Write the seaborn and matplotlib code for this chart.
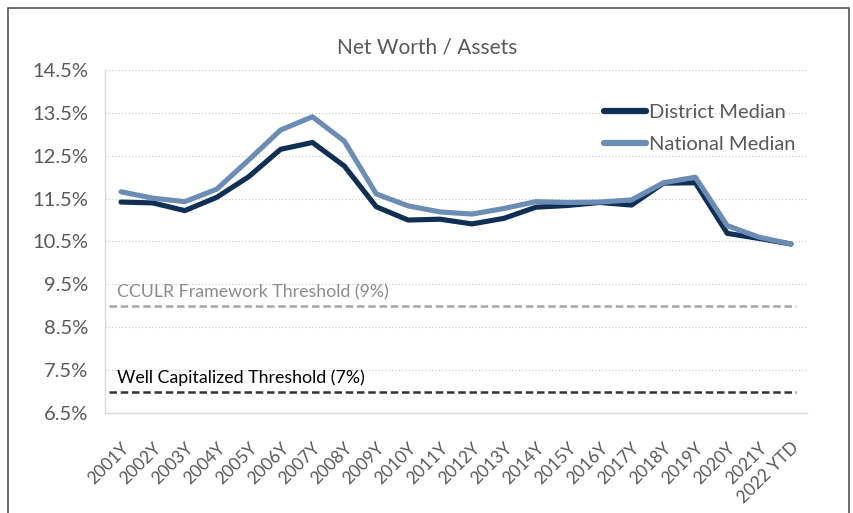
# Net Worth / Assets - district vs national median

import numpy as np
import pandas as pd
import matplotlib
matplotlib.use("Agg")
import matplotlib.pyplot as plt
from matplotlib.patches import Rectangle
import seaborn as sns

# data
years = ['2001Y', '2002Y', '2003Y', '2004Y', '2005Y', '2006Y', '2007Y', '2008Y',
         '2009Y', '2010Y', '2011Y', '2012Y', '2013Y', '2014Y', '2015Y', '2016Y',
         '2017Y', '2018Y', '2019Y', '2020Y', '2021Y', '2022 YTD']
district = [11.42, 11.40, 11.22, 11.53, 12.01, 12.65, 12.81, 12.26,
            11.31, 11.00, 11.02, 10.91, 11.04, 11.30, 11.34, 11.41,
            11.35, 11.86, 11.87, 10.69, 10.57, 10.44]
national = [11.66, 11.51, 11.43, 11.72, 12.40, 13.10, 13.41, 12.84,
            11.61, 11.33, 11.19, 11.14, 11.27, 11.43, 11.41, 11.42,
            11.47, 11.87, 12.00, 10.87, 10.60, 10.44]
ccul_threshold = 9.0
well_cap_threshold = 7.0
y_ticks = [6.5, 7.5, 8.5, 9.5, 10.5, 11.5, 12.5, 13.5, 14.5]

sns.set_style("white")
plt.rcParams['font.family'] = ['Lato', 'DejaVu Sans']

text_grey = '#595959'
navy = '#0F2F55'
steel = '#6B8DB5'

df = pd.DataFrame({
    'pos': list(range(len(years))) * 2,
    'value': district + national,
    'series': ['District Median'] * len(years) + ['National Median'] * len(years),
})

fig = plt.figure(figsize=(8.54, 5.13), dpi=100)
ax = fig.add_axes([0.123, 0.195, 0.822, 0.6685])

# dotted horizontal gridlines
for t in y_ticks:
    ax.axhline(t, color='#C8C8C8', lw=0.8, ls=(0, (1, 2)), zorder=0)

# threshold lines
ax.axhline(ccul_threshold, xmin=0.005, xmax=0.984, color='#A6A6A6', lw=1.8, ls=(0, (3, 1.5)), zorder=1)
ax.axhline(well_cap_threshold, xmin=0.005, xmax=0.984, color='#333333', lw=1.8, ls=(0, (3, 1.5)), zorder=1)
ax.text(-0.12, ccul_threshold + 0.12, 'CCULR Framework Threshold (9%)', color='#8C8C8C',
        fontsize=12.8, va='bottom', ha='left')
ax.text(-0.12, well_cap_threshold + 0.12, 'Well Capitalized Threshold (7%)', color='black',
        fontsize=12.8, va='bottom', ha='left')

sns.lineplot(data=df, x='pos', y='value', hue='series', palette=[navy, steel],
             linewidth=3.7, ax=ax, legend=False, zorder=3)

ax.set_xlim(-0.5, len(years) - 0.5)
ax.set_ylim(6.5, 14.5)
ax.set_yticks(y_ticks)
ax.set_yticklabels([f'{t:.1f}%' for t in y_ticks])
ax.set_xticks(np.arange(len(years)))
ax.set_xticklabels(years, rotation=45, ha='right', rotation_mode='anchor')
ax.set_xticks(np.arange(len(years) + 1) - 0.5, minor=True)
ax.tick_params(axis='x', which='major', length=0, pad=19, labelsize=12.5, labelcolor=text_grey)
ax.tick_params(axis='x', which='minor', length=7, color='#D9D9D9', width=1)
ax.tick_params(axis='y', length=6, color='#D9D9D9', width=1, pad=6, labelsize=14.5,
               labelcolor=text_grey)
ax.set_xlabel('')
ax.set_ylabel('')

for side in ['top', 'right']:
    ax.spines[side].set_visible(False)
for side in ['left', 'bottom']:
    ax.spines[side].set_color('#D9D9D9')
    ax.spines[side].set_linewidth(1)

# legend
handles = [plt.Line2D([], [], color=navy, lw=4.5, solid_capstyle='round'),
           plt.Line2D([], [], color=steel, lw=4.5, solid_capstyle='round')]
ax.legend(handles, ['District Median', 'National Median'], loc='upper left',
          bbox_to_anchor=(0.685, 0.955), frameon=False, fontsize=14.5,
          handlelength=2.1, handletextpad=0.15, labelspacing=0.75, labelcolor=text_grey)

fig.text(0.5, 0.908, 'Net Worth / Assets', ha='center', va='center', fontsize=15, color=text_grey)

# outer frame
fig.patches.append(Rectangle((8 / 854, -0.02), 841 / 854, 1 - 8 / 513 + 0.02,
                             transform=fig.transFigure, fill=False, edgecolor='#555555', lw=1.2))

plt.savefig('out.png', dpi=100)
plt.close()
